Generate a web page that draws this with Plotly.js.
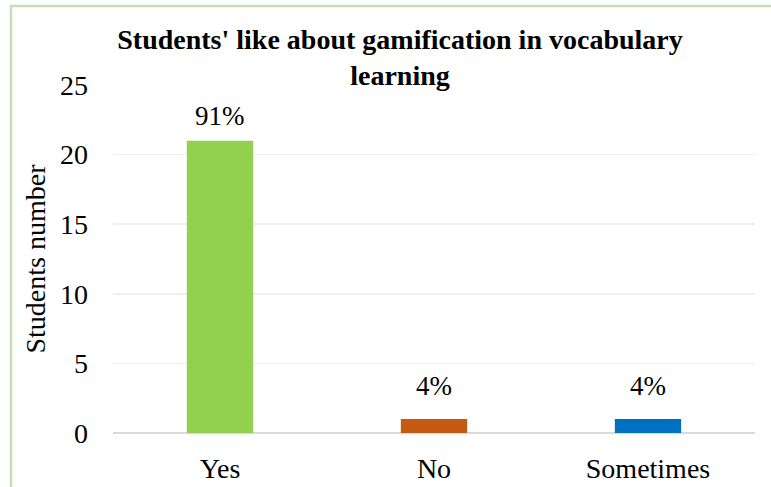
<!DOCTYPE html>
<html>
<head>
<meta charset="utf-8">
<script src="https://cdn.plot.ly/plotly-3.0.1.min.js"></script>
<style>
  html, body { margin: 0; padding: 0; background: #ffffff; }
  #chart { width: 771px; height: 487px; }
</style>
</head>
<body>
<div id="chart"></div>
<script>
const categories = ["Yes", "No", "Sometimes"];
const studentCounts = [21, 1, 1];
const percentLabels = ["91%", "4%", "4%"];
const barColors = ["#92D050", "#C55A11", "#0070C0"];
const yTickValues = [0, 5, 10, 15, 20, 25];
const chartTitle = "Students' like about gamification in vocabulary<br>learning";
const yAxisTitle = "Students number";

const serif = "Liberation Serif";
const labelShifts = [8, 16, 16];

const trace = {
  type: "bar",
  x: categories,
  y: studentCounts,
  marker: { color: barColors },
  hoverinfo: "skip"
};

const annotations = categories.map((c, i) => ({
  x: c,
  y: studentCounts[i],
  xref: "x",
  yref: "y",
  text: percentLabels[i],
  showarrow: false,
  yanchor: "bottom",
  yshift: labelShifts[i],
  font: { family: serif, size: 27, color: "#000000" }
}));

const layout = {
  width: 771,
  height: 487,
  margin: { l: 113, r: 16, t: 85, b: 54 },
  paper_bgcolor: "#ffffff",
  plot_bgcolor: "#ffffff",
  showlegend: false,
  bargap: 0.69,
  title: {
    text: chartTitle,
    font: { family: serif, size: 28, color: "#000000", weight: "bold" },
    xref: "container",
    x: 400 / 771,
    xanchor: "center",
    yref: "container",
    y: 1 - 49 / 487,
    yanchor: "top"
  },
  xaxis: {
    type: "category",
    showgrid: false,
    showline: false,
    zeroline: false,
    ticks: "",
    ticklabelstandoff: 16,
    tickfont: { family: serif, size: 28, color: "#000000" }
  },
  yaxis: {
    range: [0, 25],
    tickvals: yTickValues,
    ticktext: yTickValues.map(String),
    showgrid: true,
    gridcolor: "#EFEFEF",
    gridwidth: 1.5,
    zeroline: true,
    zerolinecolor: "#D9D9D9",
    zerolinewidth: 2,
    showline: false,
    ticks: "",
    ticklabelstandoff: 24,
    tickfont: { family: serif, size: 28, color: "#000000" },
    title: {
      text: yAxisTitle,
      font: { family: serif, size: 28, color: "#000000" },
      standoff: 6
    }
  },
  annotations: annotations,
  shapes: [{
    type: "rect",
    xref: "paper",
    yref: "paper",
    x0: (11 - 113) / 642,
    x1: (790 - 113) / 642,
    y0: (433 - 500) / 348,
    y1: (433 - 6) / 348,
    line: { color: "#C5E0B4", width: 2.5 },
    fillcolor: "rgba(0,0,0,0)",
    layer: "below"
  }]
};

Plotly.newPlot("chart", [trace], layout, { displayModeBar: false, staticPlot: true });
</script>
</body>
</html>
